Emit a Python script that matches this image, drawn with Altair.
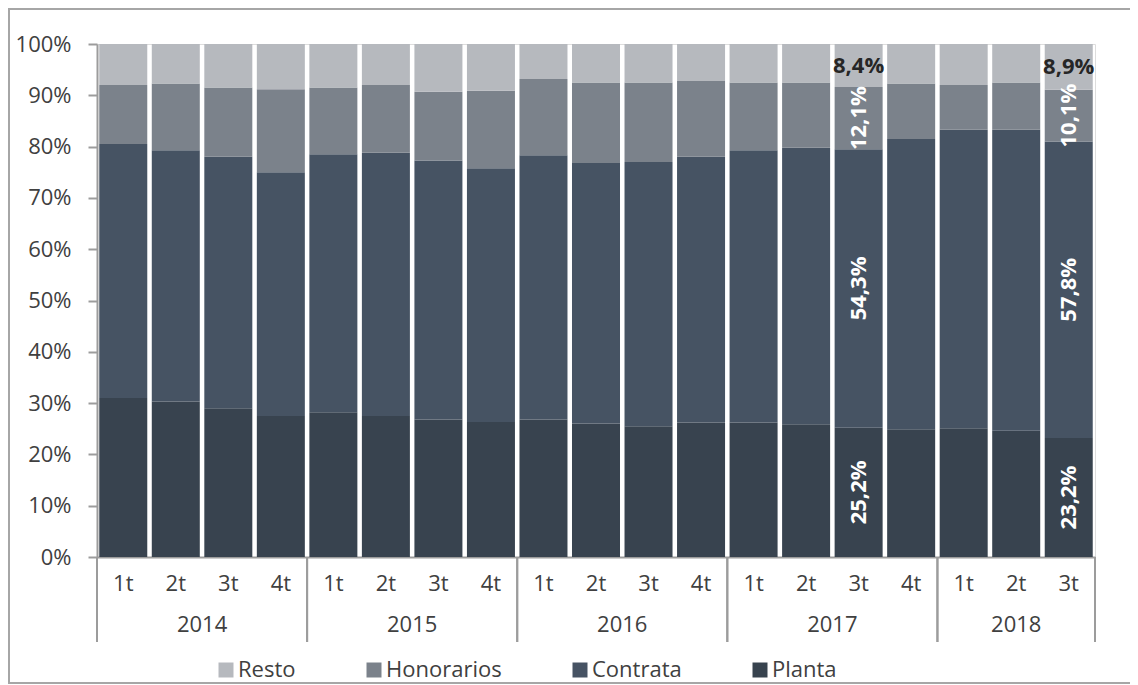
import altair as alt
import pandas as pd

years = ["2014"] * 4 + ["2015"] * 4 + ["2016"] * 4 + ["2017"] * 4 + ["2018"] * 3
quarters = ["1t", "2t", "3t", "4t"] * 4 + ["1t", "2t", "3t"]

planta = [31.0, 30.3, 29.0, 27.5, 28.2, 27.5, 26.8, 26.3, 26.8, 26.0, 25.5, 26.2,
          26.2, 25.9, 25.2, 24.9, 25.1, 24.6, 23.2]
contrata = [49.5, 49.0, 49.0, 47.5, 50.3, 51.3, 50.5, 49.5, 51.5, 50.8, 51.5, 51.8,
            53.1, 53.9, 54.3, 56.6, 58.2, 58.7, 57.8]
honorarios = [11.5, 13.0, 13.5, 16.2, 13.0, 13.2, 13.4, 15.1, 14.9, 15.7, 15.5, 14.8,
              13.2, 12.7, 12.1, 10.8, 8.7, 9.2, 10.1]
resto = [8.0, 7.7, 8.5, 8.8, 8.5, 8.0, 9.3, 9.1, 6.8, 7.5, 7.5, 7.2,
         7.5, 7.5, 8.4, 7.7, 8.0, 7.5, 8.9]

series_names = ["Planta", "Contrata", "Honorarios", "Resto"]
series_colors = ["#38434f", "#465363", "#7b828b", "#b6b9be"]
legend_order = ["Resto", "Honorarios", "Contrata", "Planta"]
labelled = [("2017", "3t"), ("2018", "3t")]

FONT = "Open Sans"
TXT = "#404040"
AXC = "#9c9c9c"

rows = []
for i, (yr, q) in enumerate(zip(years, quarters)):
    for k, (name, vals) in enumerate(zip(series_names, [planta, contrata, honorarios, resto])):
        v = vals[i]
        lab = f"{v:.1f}".replace(".", ",") + "%" if (yr, q) in labelled else ""
        rows.append({"idx": i, "year": yr, "q": q, "series": name, "order": k,
                     "value": v, "label": lab})
df = pd.DataFrame(rows)
cats = pd.DataFrame({"idx": list(range(len(years))), "year": years, "q": quarters})

W, H = 998, 513
xscale = alt.Scale(domain=[-0.5, len(years) - 0.5], nice=False, zero=False)
yscale = alt.Scale(domain=[0, 100], nice=False)

base = alt.Chart(df).transform_stack(
    stack="value", groupby=["idx"], as_=["v0", "v1"],
    sort=[alt.SortField("order", order="ascending")]
).transform_calculate(
    x0="datum.idx - 0.457", x1="datum.idx + 0.457", mid="(datum.v0 + datum.v1) / 2"
)

bars = base.mark_bar(opacity=1).encode(
    x=alt.X("x0:Q", scale=xscale,
            axis=alt.Axis(labels=False, ticks=False, grid=False, title=None,
                          domainColor=AXC, domainWidth=2)),
    x2="x1:Q",
    y=alt.Y("v0:Q", scale=yscale,
            axis=alt.Axis(values=list(range(0, 101, 10)), labelExpr="datum.value + '%'",
                          grid=False, title=None, domainColor=AXC, domainWidth=2,
                          tickColor=AXC, tickWidth=2, tickSize=9, labelPadding=17,
                          labelFont=FONT, labelFontSize=22, labelColor=TXT)),
    y2="v1:Q",
    color=alt.Color("series:N",
                    scale=alt.Scale(domain=legend_order,
                                    range=[series_colors[series_names.index(s)] for s in legend_order]),
                    legend=alt.Legend(orient="none", legendX=118, legendY=615,
                                      direction="horizontal", title=None,
                                      symbolType="square", symbolSize=225,
                                      symbolStrokeWidth=0, symbolOpacity=1,
                                      labelFont=FONT, labelFontSize=22, labelColor=TXT,
                                      labelOffset=1, columnPadding=67)),
)

vlabels = base.transform_filter(
    "datum.label != '' && datum.series != 'Resto'"
).mark_text(angle=270, color="white", font=FONT, fontSize=22, fontWeight="bold",
            align="center", baseline="middle").encode(
    x="idx:Q", y="mid:Q", text="label:N")

rlabels = base.transform_filter(
    "datum.label != '' && datum.series == 'Resto'"
).mark_text(color="#262626", font=FONT, fontSize=22, fontWeight="bold",
            align="center", baseline="middle").encode(
    x="idx:Q", y="mid:Q", text="label:N")

qlabels = alt.Chart(cats).mark_text(font=FONT, fontSize=22, color=TXT,
                                    baseline="middle").encode(
    x="idx:Q", y=alt.value(H + 27), text="q:N")

ylabels = alt.Chart(cats).mark_text(font=FONT, fontSize=22, color=TXT,
                                    baseline="middle").encode(
    x="mean(idx):Q", y=alt.value(H + 68), text="year:N")

seps = alt.Chart(cats).transform_aggregate(
    lo="min(idx)", hi="max(idx)", groupby=["year"]
).transform_calculate(a="datum.lo - 0.5", b="datum.hi + 0.5").transform_fold(
    ["a", "b"], as_=["k", "bx"]
).mark_rule(color=AXC, strokeWidth=2).encode(
    x="bx:Q", y=alt.value(H), y2=alt.value(H + 85))

frame = alt.Chart(alt.Data(values=[{"f": 1}])).mark_rect(
    filled=False, stroke="#a6a6a6", strokeWidth=2).encode(
    x=alt.value(-88), x2=alt.value(W + 60), y=alt.value(-35), y2=alt.value(H + 126))

chart = alt.layer(frame, bars, vlabels, rlabels, qlabels, ylabels, seps).properties(
    width=W, height=H, autosize=alt.AutoSizeParams(type="none"),
    padding={"left": 89, "top": 36, "right": 35, "bottom": 127}
).configure_view(stroke=None).configure(font=FONT)

chart.save("out.html", embed_options={"renderer": "svg", "actions": False})
